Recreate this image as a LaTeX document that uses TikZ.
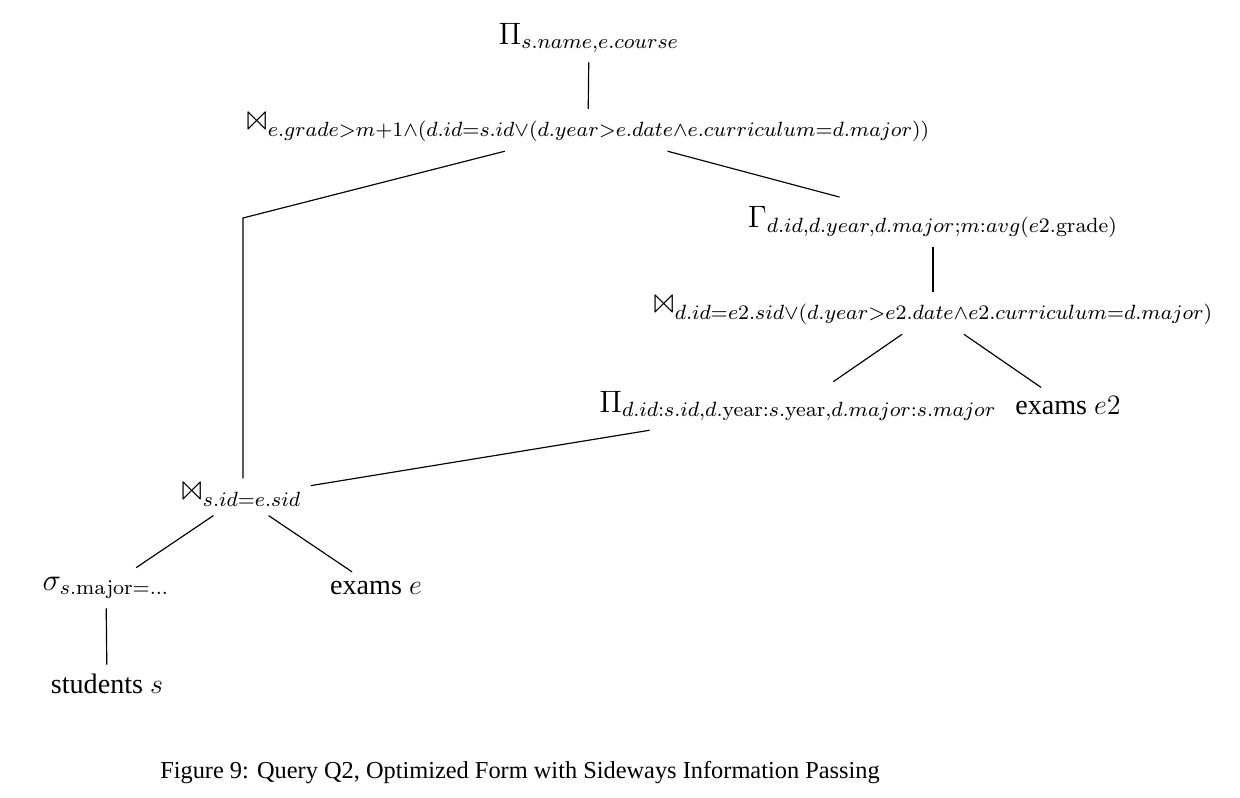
\documentclass[tikz,border=0pt]{standalone}
\usepackage{amsmath}
\usepackage{latexsym}
\usepackage[no-math]{fontspec}
\setmainfont{Liberation Serif}
\usetikzlibrary{positioning}
\newcommand{\treemath}[1]{\scalebox{1.1}{$#1$}}

\begin{document}
\begin{tikzpicture}[x=0.015cm,y=-0.015cm]
\tikzset{
  op/.style={align=center, inner sep=2pt, outer sep=2pt, font=\large},
  rel/.style={align=center, inner sep=2pt, outer sep=2pt, font=\large},
  edge/.style={draw, line width=0.5pt},
}
\useasboundingbox (0,0) rectangle (1240,798);

\node[op] (proj) at (589,38) {\treemath{\Pi_{s.name,e.course}}};
\node[op] (join1) at (588,130) {\treemath{\Join_{e.grade>m+1\wedge(d.id=s.id\vee(d.year>e.date\wedge e.curriculum=d.major))}}};
\node[op] (aggr) at (933,222) {\treemath{\Gamma_{d.id,d.year,d.major;m:avg(e2.\mathrm{grade})}}};
\node[op] (join3) at (933,313) {\treemath{\Join_{d.id=e2.sid\vee(d.year>e2.date\wedge e2.curriculum=d.major)}}};
\node[op] (proj2) at (798,406) {\treemath{\Pi_{d.id:s.id,d.\mathrm{year}:s.\mathrm{year},d.major:s.major}}};
\node[rel] (exams2) at (1068,406) {exams $e2$};
\node[op] (join2) at (241,497) {\treemath{\Join_{s.id=e.sid}}};
\node[op] (sel) at (106,588) {\treemath{\sigma_{s.\mathrm{major}=\ldots}}};
\node[rel] (exams) at (376,588) {exams $e$};
\node[rel] (students) at (107,684) {students $s$};
\coordinate (bend) at (243,218);

\node[font=\fontsize{10.4}{12}\selectfont] (caption) at (520,773) {Figure 9: Query Q2, Optimized Form with Sideways Information Passing};

\draw[edge] (proj) -- (join1);
\draw[edge] (join1) -- (bend) -- (bend |- join2.north);
\draw[edge] (join1) -- (aggr);
\draw[edge] (aggr) -- (join3);
\draw[edge] (join3) -- (proj2);
\draw[edge] (join3) -- (exams2);
\draw[edge] (proj2) -- (join2);
\draw[edge] (join2) -- (sel);
\draw[edge] (join2) -- (exams);
\draw[edge] (sel) -- (students);
\end{tikzpicture}
\end{document}
